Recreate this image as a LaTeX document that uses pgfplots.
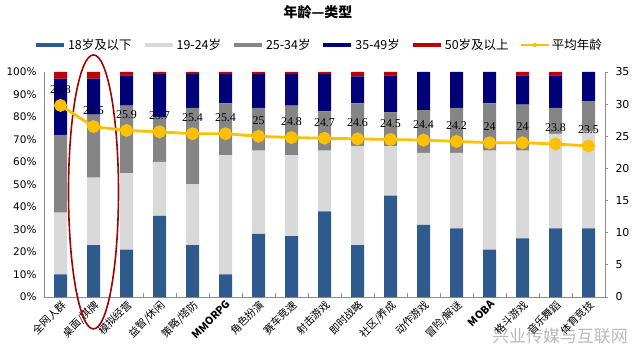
\documentclass[border=0pt]{standalone}
\usepackage{fontspec}
\usepackage{pgfplots}
\usepackage{pgfplotstable}
\pgfplotsset{compat=1.18}
\setmainfont{Liberation Serif}
\newfontfamily\cjk{Noto Sans CJK SC}
\newfontfamily\tickf{DejaVu Sans}
\definecolor{cA}{HTML}{2F5A8E}
\definecolor{cB}{HTML}{D9D9D9}
\definecolor{cC}{HTML}{858585}
\definecolor{cD}{HTML}{000078}
\definecolor{cE}{HTML}{C00000}
\definecolor{cG}{HTML}{FFC000}
\definecolor{axc}{HTML}{8C8C8C}
\pgfplotstableread{
x a b c d e avg
0 10 27.5 34.5 25 3 29.8
1 23 30 28 16 3 26.5
2 21 34 30 13.5 1.5 25.9
3 36 24 20 19 1 25.7
4 23 27 34 15 1 25.4
5 10 53 23 13 1 25.4
6 28 37 19 15 1 25
7 27 36 22 14 1 24.8
8 38 27 17.5 16.5 1 24.7
9 23 44 19 12 2 24.6
10 45 22 15 16.5 1.5 24.5
11 32 32 19 17 0 24.4
12 30.5 33.5 20 16 0 24.2
13 21 44 21 14 0 24
14 26 39 20.5 13 1.5 24
15 30.5 42 11.5 14.5 1.5 23.8
16 30.5 43 13.5 13 0 23.5
}\agedata
\begin{document}
\begin{tikzpicture}
\useasboundingbox (0,0) rectangle (640bp,362bp);
\node[font=\cjk\bfseries\fontsize{14}{14}\selectfont] at (318bp,350bp) {年龄—类型};
\begin{axis}[
  at={(44bp,65bp)}, anchor=south west,
  scale only axis, width=561bp, height=225bp,
  ybar stacked, bar width=13bp,
  xmin=-0.5, xmax=16.5, ymin=0, ymax=100,
  axis x line*=bottom, axis y line*=left,
  axis line style={axc, line width=0.8bp},
  clip=false,
  xtick={0,...,16},
  xticklabels={全网人群,桌面/棋牌,模拟经营,益智/休闲,策略/塔防,{\bfseries MMORPG},角色扮演,赛车竞速,射击游戏,即时战略,社区/养成,动作游戏,冒险/解谜,{\bfseries MOBA},格斗游戏,音乐舞蹈,体育竞技},
  x tick label style={rotate=45, anchor=north east, font=\cjk\fontsize{10.5}{10.5}\selectfont, inner sep=1.5bp},
  major x tick style={draw=none},
  minor xtick={0.5,1.5,...,15.5},
  minor tick length=4bp, tick align=inside,
  minor x tick style={axc, line width=0.8bp},
  ytick={0,10,...,100},
  ytick style={draw=none},
  yticklabel={\pgfmathprintnumber[assume math mode=true]{\tick}\%},
  y tick label style={font=\tickf\fontsize{10.5}{10.5}\selectfont, xshift=-4bp},
  legend columns=6,
  legend style={at={(0.49,1.12)}, anchor=center, draw=none, fill=none,
    font=\cjk\fontsize{12.5}{12.5}\selectfont,
    /tikz/every even column/.append style={column sep=9bp}},
  legend cell align=left,
]
\addplot[fill=cA, draw=none, legend image code/.code={\draw[cA, line width=4bp] (0bp,0bp)--(28bp,0bp);}] table[x=x,y=a]{\agedata};
\addlegendentry{18岁及以下}
\addplot[fill=cB, draw=none, legend image code/.code={\draw[cB, line width=4bp] (0bp,0bp)--(28bp,0bp);}] table[x=x,y=b]{\agedata};
\addlegendentry{19-24岁}
\addplot[fill=cC, draw=none, legend image code/.code={\draw[cC, line width=4bp] (0bp,0bp)--(28bp,0bp);}] table[x=x,y=c]{\agedata};
\addlegendentry{25-34岁}
\addplot[fill=cD, draw=none, legend image code/.code={\draw[cD, line width=4bp] (0bp,0bp)--(28bp,0bp);}] table[x=x,y=d]{\agedata};
\addlegendentry{35-49岁}
\addplot[fill=cE, draw=none, legend image code/.code={\draw[cE, line width=4bp] (0bp,0bp)--(28bp,0bp);}] table[x=x,y=e]{\agedata};
\addlegendentry{50岁及以上}
\addlegendimage{legend image code/.code={\draw[cG, line width=2.5bp] (0bp,0bp)--(28bp,0bp); \fill[cG] (14bp,0bp) circle (2bp);}}
\addlegendentry{平均年龄}
\draw[cE!85!black, line width=1.6bp] (axis cs:1,46.7) ellipse [x radius=25bp, y radius=137bp];
\end{axis}
\begin{axis}[
  at={(44bp,65bp)}, anchor=south west,
  scale only axis, width=561bp, height=225bp,
  xmin=-0.5, xmax=16.5, ymin=0, ymax=35,
  axis x line=none, axis y line*=right,
  axis line style={axc, line width=0.8bp},
  ytick={0,5,...,35},
  tick align=outside, major tick length=3bp,
  ytick style={axc, line width=0.8bp},
  yticklabel={\pgfmathprintnumber[assume math mode=true]{\tick}},
  y tick label style={font=\tickf\fontsize{11}{11}\selectfont, xshift=4bp},
  clip=false,
]
\addplot[cG, line width=2.8bp, mark=*, mark size=5bp, mark options={fill=cG, draw=cG},
  nodes near coords={\pgfmathprintnumber[assume math mode=true]{\pgfplotspointmeta}},
  nodes near coords style={font=\fontsize{12}{12}\selectfont, text=black, anchor=center, yshift=16bp}]
  table[x=x,y=avg]{\agedata};
\end{axis}
\node[text=gray, opacity=0.55, font=\cjk\fontsize{17}{17}\selectfont] at (560bp,26bp) {兴业传媒与互联网};
\end{tikzpicture}
\end{document}
